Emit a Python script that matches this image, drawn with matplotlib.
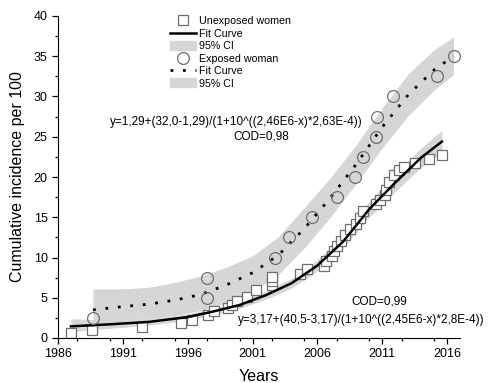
import matplotlib.pyplot as plt
import numpy as np
from matplotlib.lines import Line2D
from matplotlib.patches import Patch
from matplotlib.ticker import MultipleLocator

plt.rcParams['font.family'] = ['Liberation Sans', 'DejaVu Sans']

# unexposed women (squares)
unexp_year = [1987.0, 1988.6, 1992.5, 1995.5, 1996.3, 1997.6, 1998.0, 1999.1, 1999.4, 1999.8,
              2000.6, 2001.3, 2002.5, 2002.5, 2002.5, 2004.7, 2005.2, 2006.5, 2006.7, 2007.1,
              2007.3, 2007.5, 2007.8, 2008.1, 2008.5, 2009.0, 2009.3, 2009.5, 2010.5, 2010.8,
              2011.2, 2011.3, 2011.5, 2011.9, 2012.3, 2012.7, 2013.5, 2014.6, 2015.6]
unexp_val = [0.6, 1.0, 1.4, 1.9, 2.2, 2.9, 3.3, 3.7, 4.1, 4.6,
             5.1, 6.0, 6.6, 7.1, 7.6, 8.0, 8.6, 9.0, 9.6, 10.2,
             10.8, 11.4, 12.1, 12.8, 13.5, 14.2, 14.9, 15.8, 16.6, 17.2,
             17.8, 18.4, 19.4, 20.2, 20.9, 21.3, 21.8, 22.2, 22.7]

# fit curve + 95% CI for unexposed
unexp_fit_x = [1987.0, 1990, 1993, 1996, 1998, 2000, 2002, 2004, 2006, 2008, 2010, 2012, 2014, 2015.6]
unexp_fit_y = [1.45, 1.7, 2.0, 2.6, 3.3, 4.1, 5.3, 6.8, 9.0, 12.0, 16.0, 19.3, 22.4, 24.4]
unexp_lo = [0.8, 1.2, 1.6, 2.2, 2.9, 3.7, 4.8, 6.2, 8.3, 11.2, 15.0, 18.2, 21.2, 23.0]
unexp_hi = [2.4, 2.2, 2.4, 3.0, 3.7, 4.5, 5.8, 7.4, 9.7, 12.8, 17.0, 20.4, 23.6, 25.8]

# exposed woman (circles)
exp_year = [1988.7, 1997.5, 1997.5, 2002.7, 2003.8, 2005.6, 2007.5, 2008.9, 2009.5, 2010.5,
            2010.6, 2011.8, 2015.2, 2016.5]
exp_val = [2.5, 7.5, 5.0, 10.0, 12.5, 15.0, 17.5, 20.0, 22.5, 25.0, 27.5, 30.0, 32.5, 35.0]

exp_fit_x = [1988.7, 1991, 1993, 1995, 1997, 1999, 2001, 2003, 2005, 2007, 2009, 2011, 2013, 2015, 2016.5]
exp_fit_y = [3.5, 3.9, 4.2, 4.7, 5.4, 6.6, 8.1, 10.3, 13.6, 17.4, 21.6, 26.2, 30.2, 33.3, 35.0]
exp_lo = [2.1, 2.2, 2.4, 2.8, 3.4, 4.4, 5.8, 7.9, 11.2, 15.0, 19.2, 23.6, 27.6, 30.8, 32.7]
exp_hi = [6.1, 6.1, 6.3, 6.9, 7.7, 8.8, 10.2, 12.6, 16.2, 19.9, 24.0, 28.6, 32.8, 35.8, 37.4]

band = "#d6d6d6"
mk = "#6e6e6e"

fig = plt.figure(figsize=(4.96, 3.83), dpi=100)
ax = fig.add_axes([58/496, 1-338/383, (460-58)/496, (338-16)/383])

ax.fill_between(exp_fit_x, exp_lo, exp_hi, color=band, lw=0, zorder=1)
ax.fill_between(unexp_fit_x, unexp_lo, unexp_hi, color=band, lw=0, zorder=1)
ax.plot(unexp_fit_x, unexp_fit_y, color="black", lw=1.8, zorder=3)
ax.plot(exp_fit_x, exp_fit_y, color="black", lw=2, linestyle=(0, (1, 3.5)), zorder=3)
ax.plot(unexp_year, unexp_val, "s", ms=7, mfc="white", mec=mk, mew=0.9, zorder=2)
ax.plot(exp_year, exp_val, "o", ms=8.5, mfc="none", mec=mk, mew=0.9, zorder=4)

ax.set_xlim(1986, 2017)
ax.set_ylim(0, 40)
ax.set_xticks([1986, 1991, 1996, 2001, 2006, 2011, 2016])
ax.xaxis.set_minor_locator(MultipleLocator(2.5))
ax.yaxis.set_major_locator(MultipleLocator(5))
ax.yaxis.set_minor_locator(MultipleLocator(2.5))
ax.tick_params(which="major", direction="out", length=4, width=0.9, labelsize=9)
ax.tick_params(which="minor", direction="out", length=2.5, width=0.9)
for s in ["top", "right"]:
    ax.spines[s].set_visible(False)
ax.set_xlabel("Years", fontsize=11.5, labelpad=6)
ax.set_ylabel("Cumulative incidence per 100", fontsize=11.5, labelpad=6)

ax.text(1990.0, 26.8, "y=1,29+(32,0-1,29)/(1+10^((2,46E6-x)*2,63E-4))", fontsize=8.5, va="center")
ax.text(2001.7, 25.0, "COD=0,98", fontsize=8.5, ha="center", va="center")
ax.text(2010.8, 4.5, "COD=0,99", fontsize=8.5, ha="center", va="center")
ax.text(1999.9, 2.2, "y=3,17+(40,5-3,17)/(1+10^((2,45E6-x)*2,8E-4))", fontsize=8.5, va="center")

handles = [Line2D([], [], ls="none", marker="s", ms=7, mfc="white", mec=mk, mew=0.9),
           Line2D([], [], color="black", lw=1.8),
           Patch(color=band),
           Line2D([], [], ls="none", marker="o", ms=8.5, mfc="none", mec=mk, mew=0.9),
           Line2D([], [], color="black", lw=2, linestyle=(0, (1, 3.5))),
           Patch(color=band)]
labels = ["Unexposed women", "Fit Curve", "95% CI", "Exposed woman", "Fit Curve", "95% CI"]
fig.legend(handles, labels, loc="upper left", bbox_to_anchor=(170/496, 1-16/383), frameon=False,
           fontsize=7.7, handlelength=2.4, handleheight=0.9, handletextpad=0.3, labelspacing=0.22,
           borderpad=0, borderaxespad=0)

fig.savefig("out.png", dpi=100)
